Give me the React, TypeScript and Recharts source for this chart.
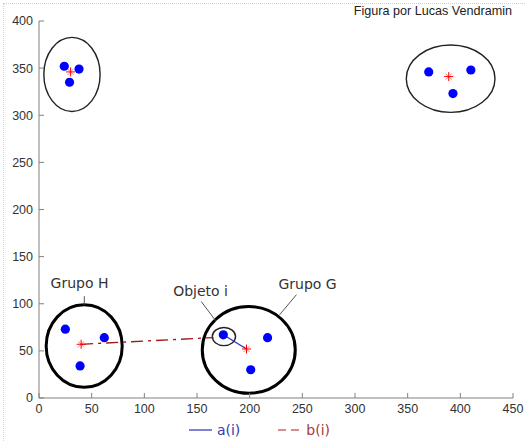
import React from 'react';
import {
  ComposedChart,
  Scatter,
  XAxis,
  YAxis,
  ReferenceArea,
  ReferenceLine,
  ReferenceDot,
  Legend,
} from 'recharts';

// ---- data ----
const xTicks = [0, 50, 100, 150, 200, 250, 300, 350, 400, 450];
const yTicks = [0, 50, 100, 150, 200, 250, 300, 350, 400];

const objects = [
  { x: 24, y: 352 },
  { x: 38, y: 349 },
  { x: 29, y: 335 },
  { x: 370, y: 346 },
  { x: 410, y: 348 },
  { x: 393, y: 323 },
  { x: 25, y: 73 },
  { x: 62, y: 64 },
  { x: 39, y: 34 },
  { x: 175, y: 67 },
  { x: 217, y: 64 },
  { x: 201, y: 30 },
];

const centroids = [
  { x: 30, y: 346 },
  { x: 389, y: 341 },
  { x: 40, y: 57 },
  { x: 197, y: 52 },
];

// ellipse bounding boxes in data units
const groupBounds = [
  { id: 'g1', x1: 4.6, x2: 58, y1: 304, y2: 382.6, bold: false },
  { id: 'g2', x1: 348.7, x2: 432.9, y1: 303, y2: 374.5, bold: false },
  { id: 'H', x1: 6.8, x2: 79, y1: 11.4, y2: 98.9, bold: true },
  { id: 'G', x1: 155, x2: 243.3, y1: 5, y2: 97, bold: true },
  { id: 'obj', x1: 164.5, x2: 186.6, y1: 55.6, y2: 74.8, bold: false },
];

const aLine = [
  { x: 175, y: 67 },
  { x: 197, y: 52 },
];
const bLine = [
  { x: 40, y: 57 },
  { x: 165.7, y: 64.1 },
];

const annotations = [
  { text: 'Grupo H', x: 38.5, y: 122 },
  { text: 'Objeto i', x: 153.4, y: 113.8 },
  { text: 'Grupo G', x: 255, y: 120.7 },
];

const leaders = [
  [{ x: 43, y: 108 }, { x: 43, y: 99 }],
  [{ x: 154, y: 102.4 }, { x: 167.6, y: 82.2 }],
  [{ x: 244.4, y: 109.6 }, { x: 228.4, y: 88.3 }],
];

const legendItems = [
  { name: 'a(i)', color: '#2c2cb8', text: '#3a3aa8', dash: undefined as string | undefined },
  { name: 'b(i)', color: '#a82020', text: '#a83a3a', dash: '8 5' },
];

const titleText = 'Figura por Lucas Vendramin';

// ---- shapes ----
const BlueDot = (props: any) => (
  <circle cx={props.cx} cy={props.cy} r={4.6} fill="#0000ff" />
);

const Star = (props: any) => {
  const { cx, cy } = props;
  const s = 4.5;
  const d = 3;
  return (
    <g stroke="#ff0000" strokeWidth={1}>
      <line x1={cx - s} y1={cy} x2={cx + s} y2={cy} />
      <line x1={cx} y1={cy - s} x2={cx} y2={cy + s} />
      <line x1={cx - d} y1={cy - d} x2={cx + d} y2={cy + d} strokeOpacity={0.5} />
      <line x1={cx - d} y1={cy + d} x2={cx + d} y2={cy - d} strokeOpacity={0.5} />
    </g>
  );
};

const makeEllipse = (bold: boolean) => (props: any) => {
  const { x, y, width, height } = props;
  return (
    <ellipse
      cx={x + width / 2}
      cy={y + height / 2}
      rx={Math.abs(width) / 2}
      ry={Math.abs(height) / 2}
      fill="none"
      stroke={bold ? '#000' : '#222'}
      strokeWidth={bold ? 3 : 1.4}
    />
  );
};

const renderLegend = () => (
  <div
    style={{
      display: 'flex',
      justifyContent: 'center',
      alignItems: 'center',
      height: 22,
      gap: 38,
      fontFamily: '"DejaVu Sans", sans-serif',
      fontSize: 14,
      paddingLeft: 6,
    }}
  >
    {legendItems.map((it) => (
      <div key={it.name} style={{ display: 'flex', alignItems: 'center' }}>
        <svg width={23} height={10}>
          <line x1={0} y1={5} x2={23} y2={5} stroke={it.color} strokeWidth={1.2} strokeDasharray={it.dash} />
        </svg>
        <span style={{ color: it.text, marginLeft: 5 }}>{it.name}</span>
      </div>
    ))}
  </div>
);

const tickStyle = { fill: '#333', fontSize: 12.5, fontFamily: '"Liberation Sans", Arial, sans-serif' };

export default function App() {
  return (
    <div
      style={{
        position: 'absolute',
        left: 0,
        top: 0,
        width: 525,
        height: 441,
        background: '#fff',
        overflow: 'hidden',
      }}
    >
      <div
        style={{
          position: 'absolute',
          left: 3,
          top: 3,
          right: 0,
          bottom: 0,
          borderTop: '1px dotted #c6d2f0',
          borderLeft: '1px dotted #c6d2f0',
        }}
      />
      <div
        style={{
          position: 'absolute',
          right: 13,
          top: 4,
          fontFamily: '"Liberation Sans", Arial, sans-serif',
          fontSize: 12.6,
          color: '#222',
          whiteSpace: 'nowrap',
        }}
      >
        {titleText}
      </div>
      <ComposedChart
        width={525}
        height={441}
        margin={{ top: 21, right: 12, bottom: 0, left: 0 }}
      >
        <XAxis
          type="number"
          dataKey="x"
          domain={[0, 450]}
          ticks={xTicks}
          interval={0}
          allowDataOverflow
          height={21}
          tickSize={-5}
          tickMargin={11}
          stroke="#808080"
          tick={tickStyle}
        />
        <XAxis
          xAxisId="top"
          orientation="top"
          type="number"
          domain={[0, 450]}
          ticks={xTicks}
          height={0}
          tickSize={-5}
          tick={false}
          stroke="#808080"
        />
        <YAxis
          type="number"
          dataKey="y"
          domain={[0, 400]}
          ticks={yTicks}
          interval={0}
          allowDataOverflow
          width={39}
          tickSize={-5}
          tickMargin={11}
          stroke="#808080"
          tick={tickStyle}
        />
        <YAxis
          yAxisId="right"
          orientation="right"
          type="number"
          domain={[0, 400]}
          ticks={yTicks}
          width={0}
          tickSize={-5}
          tick={false}
          stroke="#808080"
        />
        <Legend verticalAlign="bottom" height={22} content={renderLegend} />

        {groupBounds.map((g) => (
          <ReferenceArea
            key={g.id}
            x1={g.x1}
            x2={g.x2}
            y1={g.y1}
            y2={g.y2}
            ifOverflow="visible"
            shape={makeEllipse(g.bold)}
          />
        ))}

        {leaders.map((seg, i) => (
          <ReferenceLine key={'l' + i} segment={seg} stroke="#555" strokeWidth={1} ifOverflow="visible" />
        ))}

        <ReferenceLine segment={bLine} stroke="#a01818" strokeWidth={1.3} strokeDasharray="12 5 3 5" ifOverflow="visible" />
        <ReferenceLine segment={aLine} stroke="#2c2cb8" strokeWidth={1.2} ifOverflow="visible" />

        {annotations.map((a) => (
          <ReferenceDot
            key={a.text}
            x={a.x}
            y={a.y}
            r={0}
            fill="none"
            stroke="none"
            ifOverflow="visible"
            label={{
              value: a.text,
              position: 'center',
              fill: '#333',
              fontSize: 14,
              fontFamily: '"DejaVu Sans", sans-serif',
            }}
          />
        ))}

        <Scatter data={objects} shape={BlueDot} isAnimationActive={false} legendType="none" />
        <Scatter data={centroids} shape={Star} isAnimationActive={false} legendType="none" />
      </ComposedChart>
    </div>
  );
}
